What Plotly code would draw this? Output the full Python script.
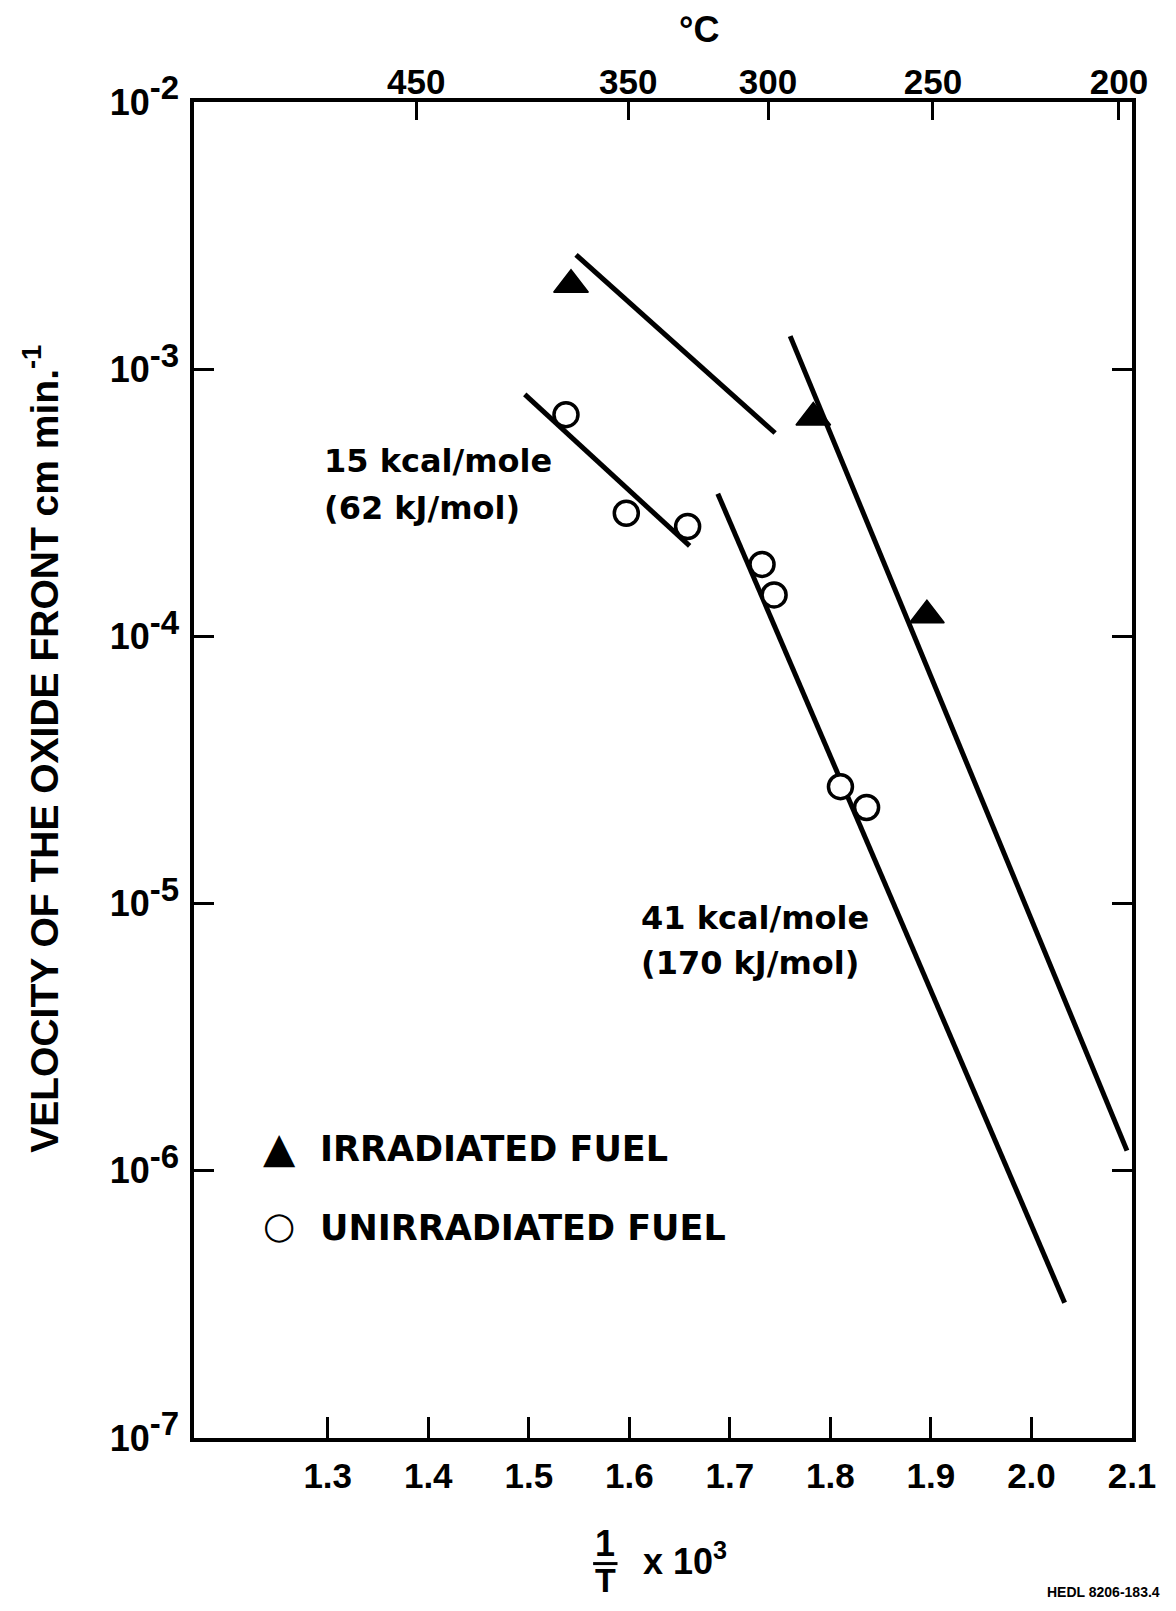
import plotly.graph_objects as go

# ---------------- data ----------------
irr_x = [1.542, 1.783, 1.896]
irr_y = [2.07e-3, 6.6e-4, 1.2e-4]

unirr_x = [1.537, 1.597, 1.658, 1.732, 1.744, 1.810, 1.836]
unirr_y = [6.76e-4, 2.89e-4, 2.58e-4, 1.86e-4, 1.43e-4, 2.74e-5, 2.29e-5]

# fitted lines (end points)
fit_irr15_x = [1.547, 1.745]
fit_irr15_y = [2.68e-3, 5.77e-4]
fit_unirr15_x = [1.496, 1.660]
fit_unirr15_y = [8.05e-4, 2.18e-4]
fit_irr41_x = [1.760, 2.095]
fit_irr41_y = [1.33e-3, 1.19e-6]
fit_unirr41_x = [1.688, 2.033]
fit_unirr41_y = [3.42e-4, 3.21e-7]

x_ticks = [1.3, 1.4, 1.5, 1.6, 1.7, 1.8, 1.9, 2.0, 2.1]
x_ticktext = ["1.3", "1.4", "1.5", "1.6", "1.7", "1.8", "1.9", "2.0", "2.1"]
y_ticks = [1e-7, 1e-6, 1e-5, 1e-4, 1e-3, 1e-2]
y_exponents = ["-7", "-6", "-5", "-4", "-3", "-2"]
top_tick_pos = [1.388, 1.599, 1.738, 1.902, 2.087]   # positions of the °C ticks on the 1/T scale
top_ticktext = ["450", "350", "300", "250", "200"]

y_ticktext = ["10<sup><span style='font-size:33px'>%s</span></sup>" % e for e in y_exponents]

SANS = "Liberation Sans, Arial, Helvetica, sans-serif"
WIDE = "DejaVu Sans, Verdana, sans-serif"

fig = go.Figure()

line_style = dict(color="black", width=5)
for fx, fy in [(fit_irr15_x, fit_irr15_y), (fit_unirr15_x, fit_unirr15_y),
               (fit_irr41_x, fit_irr41_y), (fit_unirr41_x, fit_unirr41_y)]:
    fig.add_trace(go.Scatter(x=fx, y=fy, mode="lines", line=line_style,
                             showlegend=False, hoverinfo="skip"))

fig.add_trace(go.Scatter(x=irr_x, y=irr_y, mode="markers", name="IRRADIATED FUEL",
                         marker=dict(symbol="triangle-up", size=30, color="black",
                                     line=dict(color="black", width=1.5)),
                         showlegend=False))
fig.add_trace(go.Scatter(x=unirr_x, y=unirr_y, mode="markers", name="UNIRRADIATED FUEL",
                         marker=dict(symbol="circle", size=24, color="white",
                                     line=dict(color="black", width=3.5)),
                         showlegend=False))

# trace to carry the top (°C) axis
fig.add_trace(go.Scatter(x=top_tick_pos, y=[None] * len(top_tick_pos), xaxis="x2",
                         mode="markers", showlegend=False, hoverinfo="skip"))

# the page body adds an 8 px margin, so the figure is 16 px smaller than the window
fig.update_layout(
    width=1160, height=1595,
    margin=dict(l=186, r=28, t=94, b=165),
    paper_bgcolor="white", plot_bgcolor="white",
    showlegend=False,
    xaxis=dict(range=[1.167, 2.1], tickvals=x_ticks, ticktext=x_ticktext,
               ticks="inside", ticklen=21, tickwidth=2.5, tickcolor="black",
               showline=True, linewidth=3.5, linecolor="black", mirror=True,
               showgrid=False, zeroline=False, ticklabelstandoff=4,
               tickfont=dict(family=SANS, size=35, color="black", weight="bold")),
    xaxis2=dict(overlaying="x", side="top", range=[1.167, 2.1],
                tickvals=top_tick_pos, ticktext=top_ticktext,
                ticks="inside", ticklen=18, tickwidth=2.5, tickcolor="black",
                showline=False, showgrid=False, zeroline=False,
                tickfont=dict(family=SANS, size=35, color="black", weight="bold")),
    yaxis=dict(type="log", range=[-7, -2], tickvals=y_ticks, ticktext=y_ticktext,
               ticks="inside", ticklen=20, tickwidth=2.5, tickcolor="black",
               showline=True, linewidth=3.5, linecolor="black", mirror="ticks",
               showgrid=False, zeroline=False, ticklabelstandoff=4,
               tickfont=dict(family=SANS, size=36, color="black", weight="bold")),
)

ann_font = dict(family=WIDE, size=32, color="black", weight="bold")
annotations = [
    dict(x=1.294, y=-3.343, text="15 kcal/mole"),
    dict(x=1.294, y=-3.520, text="(62 kJ/mol)"),
    dict(x=1.610, y=-5.054, text="41 kcal/mole"),
    dict(x=1.610, y=-5.223, text="(170 kJ/mol)"),
]
for a in annotations:
    fig.add_annotation(xref="x", yref="y", showarrow=False, xanchor="left",
                       yanchor="middle", font=ann_font, **a)

leg_font = dict(family=WIDE, size=35, color="black", weight="bold")
fig.add_annotation(xref="x", yref="y", x=1.290, y=-5.918, text="IRRADIATED FUEL",
                   showarrow=False, xanchor="left", yanchor="middle", font=leg_font)
fig.add_annotation(xref="x", yref="y", x=1.290, y=-6.213, text="UNIRRADIATED FUEL",
                   showarrow=False, xanchor="left", yanchor="middle", font=leg_font)

# legend keys
fig.add_annotation(xref="x", yref="y", x=1.252, y=-5.914, text="▲", showarrow=False,
                   font=dict(family="DejaVu Sans", size=42, color="black"))
fig.add_annotation(xref="x", yref="y", x=1.252, y=-6.206, text="○", showarrow=False,
                   font=dict(family="DejaVu Sans", size=37, color="black", weight="bold"))

# axis titles
fig.add_annotation(xref="paper", yref="paper", x=-0.163, y=0.516,
                   text="VELOCITY OF THE OXIDE FRONT cm min.<sup>-1</sup>",
                   textangle=-90, showarrow=False, xanchor="center", yanchor="middle",
                   font=dict(family=SANS, size=39, color="black", weight="bold"))
fig.add_annotation(xref="paper", yref="paper", x=0.538, y=1.054, text="°C",
                   showarrow=False, xanchor="center", yanchor="middle",
                   font=dict(family=SANS, size=36, color="black", weight="bold"))
fig.add_annotation(xref="paper", yref="paper", x=0.4385, y=-0.0786, text="1",
                   showarrow=False, xanchor="center", yanchor="middle",
                   font=dict(family=SANS, size=36, color="black", weight="bold"))
fig.add_annotation(xref="paper", yref="paper", x=0.4385, y=-0.1063, text="T",
                   showarrow=False, xanchor="center", yanchor="middle",
                   font=dict(family=SANS, size=34, color="black", weight="bold"))
fig.add_annotation(xref="paper", yref="paper", x=0.477, y=-0.0906, text="x 10<sup>3</sup>",
                   showarrow=False, xanchor="left", yanchor="middle",
                   font=dict(family=SANS, size=36, color="black", weight="bold"))
fig.add_shape(type="line", xref="paper", yref="paper", x0=0.4255, x1=0.4515,
              y0=-0.0940, y1=-0.0940, line=dict(color="black", width=3))
fig.add_annotation(xref="paper", yref="paper", x=1.032, y=-0.1153, text="HEDL 8206-183.4",
                   showarrow=False, xanchor="right", yanchor="middle",
                   font=dict(family=SANS, size=14, color="black", weight="bold"))

fig.write_html("out.html")
